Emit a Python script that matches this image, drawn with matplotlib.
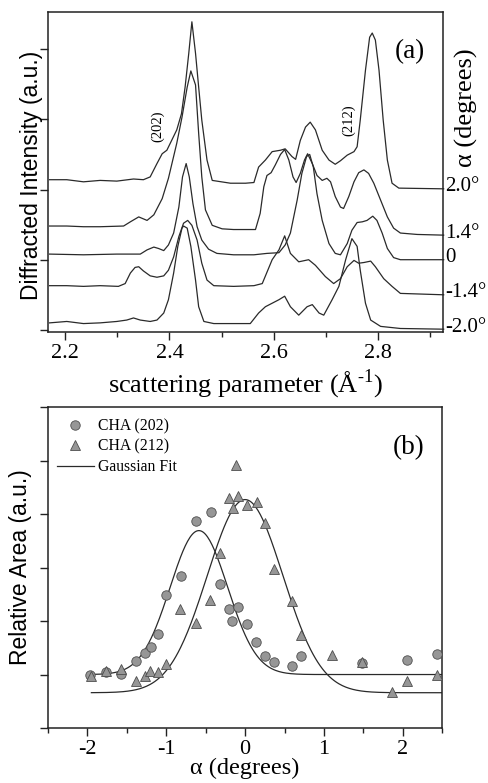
import numpy as np
import matplotlib
matplotlib.use('Agg')
import matplotlib.pyplot as plt
from matplotlib.ticker import MultipleLocator

plt.rcParams['font.family'] = ['Liberation Serif', 'DejaVu Serif']
plt.rcParams['mathtext.fontset'] = 'custom'
plt.rcParams['mathtext.rm'] = 'Liberation Serif'
plt.rcParams['axes.unicode_minus'] = False

# ---- panel (a): diffraction profiles, stacked ----
q_20 = [2.170, 2.203, 2.235, 2.267, 2.299, 2.331, 2.350, 2.363, 2.376, 2.386,
        2.395, 2.414, 2.423, 2.430, 2.437, 2.443, 2.450, 2.456, 2.462, 2.472,
        2.482, 2.517, 2.546, 2.562, 2.571, 2.584, 2.597, 2.613, 2.622, 2.635,
        2.642, 2.651, 2.661, 2.670, 2.680, 2.693, 2.706, 2.718, 2.728, 2.741,
        2.754, 2.760, 2.766, 2.776, 2.784, 2.789, 2.795, 2.802, 2.810, 2.818,
        2.827, 2.840, 2.926]
i_20 = [2.14, 2.14, 2.11, 2.13, 2.12, 2.15, 2.14, 2.18, 2.37, 2.51,
        2.56, 2.85, 3.08, 3.46, 3.94, 4.39, 3.94, 3.46, 2.99, 2.42,
        2.13, 2.09, 2.09, 2.10, 2.32, 2.42, 2.54, 2.56, 2.58, 2.47,
        2.43, 2.70, 2.89, 2.96, 2.85, 2.56, 2.42, 2.36, 2.41, 2.49,
        2.54, 2.61, 2.99, 3.70, 4.17, 4.23, 4.13, 3.70, 2.99, 2.42,
        2.09, 2.02, 2.01]

q_14 = [2.170, 2.203, 2.235, 2.267, 2.312, 2.325, 2.341, 2.357, 2.370, 2.386,
        2.398, 2.414, 2.424, 2.434, 2.441, 2.450, 2.456, 2.462, 2.469, 2.482,
        2.501, 2.523, 2.565, 2.574, 2.581, 2.587, 2.595, 2.603, 2.613, 2.621,
        2.629, 2.637, 2.643, 2.651, 2.659, 2.665, 2.674, 2.683, 2.693, 2.702,
        2.709, 2.718, 2.728, 2.734, 2.744, 2.754, 2.763, 2.773, 2.782, 2.792,
        2.805, 2.818, 2.830, 2.843, 2.875, 2.926]
i_14 = [1.48, 1.48, 1.47, 1.47, 1.48, 1.54, 1.61, 1.56, 1.64, 1.87,
        2.16, 2.66, 3.03, 3.46, 3.69, 3.49, 2.80, 2.18, 1.71, 1.49,
        1.44, 1.43, 1.43, 1.66, 2.04, 2.20, 2.24, 2.35, 2.50, 2.57,
        2.42, 2.18, 2.10, 2.23, 2.42, 2.51, 2.37, 2.20, 2.13, 2.16,
        2.11, 1.90, 1.75, 1.73, 1.90, 2.11, 2.24, 2.28, 2.23, 2.09,
        1.85, 1.61, 1.45, 1.38, 1.36, 1.35]

q_00 = [2.170, 2.235, 2.299, 2.344, 2.357, 2.370, 2.379, 2.389, 2.398, 2.408,
        2.418, 2.425, 2.432, 2.438, 2.445, 2.453, 2.462, 2.475, 2.491, 2.523,
        2.562, 2.587, 2.610, 2.622, 2.632, 2.645, 2.654, 2.663, 2.669, 2.676,
        2.683, 2.693, 2.706, 2.718, 2.728, 2.741, 2.750, 2.760, 2.770, 2.779,
        2.790, 2.798, 2.808, 2.818, 2.830, 2.843, 2.926]
i_00 = [1.08, 1.07, 1.08, 1.08, 1.14, 1.18, 1.16, 1.13, 1.21, 1.38,
        1.75, 2.18, 2.37, 2.18, 1.80, 1.47, 1.28, 1.15, 1.09, 1.07,
        1.07, 1.09, 1.10, 1.21, 1.38, 1.85, 2.23, 2.47, 2.50, 2.32,
        1.94, 1.56, 1.23, 1.09, 1.07, 1.23, 1.42, 1.53, 1.54, 1.56,
        1.62, 1.56, 1.38, 1.16, 1.03, 1.00, 1.00]

q_m14 = [2.170, 2.203, 2.235, 2.267, 2.302, 2.315, 2.325, 2.334, 2.341, 2.350,
         2.363, 2.376, 2.389, 2.398, 2.408, 2.418, 2.427, 2.435, 2.443, 2.453,
         2.462, 2.472, 2.485, 2.523, 2.562, 2.578, 2.597, 2.610, 2.621, 2.632,
         2.648, 2.667, 2.680, 2.699, 2.715, 2.728, 2.741, 2.754, 2.763, 2.773,
         2.786, 2.795, 2.811, 2.827, 2.843, 2.926]
i_m14 = [0.63, 0.63, 0.62, 0.63, 0.62, 0.66, 0.81, 0.89, 0.90, 0.84,
         0.77, 0.75, 0.77, 0.85, 1.04, 1.33, 1.52, 1.56, 1.49, 1.28,
         0.95, 0.71, 0.63, 0.62, 0.63, 0.66, 1.00, 1.14, 1.34, 1.09,
         0.97, 1.00, 0.92, 0.76, 0.66, 0.73, 0.90, 0.99, 0.95, 0.96,
         0.98, 0.90, 0.73, 0.62, 0.52, 0.50]

q_m20 = [2.170, 2.203, 2.235, 2.267, 2.299, 2.318, 2.331, 2.344, 2.363, 2.376,
         2.389, 2.398, 2.408, 2.416, 2.424, 2.427, 2.434, 2.441, 2.450, 2.456,
         2.466, 2.485, 2.523, 2.555, 2.571, 2.584, 2.597, 2.610, 2.621, 2.632,
         2.648, 2.664, 2.674, 2.687, 2.696, 2.712, 2.725, 2.738, 2.750, 2.760,
         2.766, 2.776, 2.786, 2.805, 2.843, 2.926]
i_m20 = [0.10, 0.12, 0.09, 0.10, 0.12, 0.14, 0.17, 0.14, 0.12, 0.14,
         0.24, 0.43, 0.81, 1.19, 1.45, 1.48, 1.45, 1.19, 0.71, 0.33,
         0.12, 0.09, 0.09, 0.09, 0.24, 0.33, 0.38, 0.43, 0.48, 0.33,
         0.21, 0.33, 0.36, 0.24, 0.21, 0.43, 0.62, 1.00, 1.30, 1.19,
         0.85, 0.38, 0.14, 0.05, 0.02, 0.01]

curve_labels = ['2.0°', '1.4°', '0', '-1.4°', '-2.0°']

# ---- panel (b): relative areas vs tilt angle ----
alpha_202 = [-1.97, -1.77, -1.57, -1.39, -1.27, -1.19, -1.11, -1.00, -0.81, -0.62,
             -0.43, -0.32, -0.20, -0.16, -0.085, 0.03, 0.14, 0.25, 0.37, 0.60,
             0.71, 1.48, 2.05, 2.43]
area_202 = [1.00, 1.05, 1.01, 1.25, 1.41, 1.52, 1.75, 2.49, 2.84, 3.87,
            4.04, 2.69, 2.23, 2.00, 2.26, 1.94, 1.60, 1.35, 1.24, 1.16,
            1.35, 1.21, 1.28, 1.38]

alpha_212 = [-1.96, -1.76, -1.58, -1.39, -1.27, -1.20, -1.11, -1.00, -0.82, -0.62,
             -0.45, -0.32, -0.21, -0.15, -0.12, -0.09, 0.03, 0.15, 0.25, 0.37,
             0.60, 0.71, 1.10, 1.48, 1.87, 2.05, 2.43]
area_212 = [0.97, 1.06, 1.10, 0.88, 0.98, 1.06, 1.05, 1.19, 2.22, 1.96,
            2.39, 3.27, 4.29, 4.12, 4.92, 4.34, 4.17, 4.23, 3.84, 2.98,
            2.38, 1.74, 1.36, 1.23, 0.68, 0.88, 1.00]

# gaussian fit parameters (baseline, amplitude, centre, sigma)
fit_202 = (1.00, 2.69, -0.586, 0.365)
fit_212 = (0.66, 3.61, 0.0, 0.48)


def gauss(x, y0, a, xc, w):
    return y0 + a * np.exp(-(x - xc) ** 2 / (2 * w ** 2))


def style_axes(ax):
    for s in ax.spines.values():
        s.set_linewidth(1.1)
        s.set_color('#222222')
    ax.tick_params(axis='both', which='both', direction='out', top=False, right=False,
                   color='#222222', width=1.0)
    ax.tick_params(which='major', length=6, labelsize=16, pad=2.5)
    ax.tick_params(which='minor', length=3.5)
    ax.tick_params(axis='y', labelleft=False)


fig = plt.figure(figsize=(4.89, 7.83), dpi=100)
ax1 = fig.add_axes([0.0982, 0.576, 0.808, 0.4087])
ax2 = fig.add_axes([0.0982, 0.0702, 0.806, 0.41])

# ---------------- (a) ----------------
qs = [q_20, q_14, q_00, q_m14, q_m20]
ints = [i_20, i_14, i_00, i_m14, i_m20]
for q, inten, lab in zip(qs, ints, curve_labels):
    ax1.plot(q, inten, color='#2a2a2a', lw=0.9, clip_on=False)
    # angle label at the right end of each trace
    ax1.text(1.005, (inten[-1] + 0.06) / 4.56, lab, transform=ax1.transAxes,
             ha='left', va='center', fontsize=15)

ax1.set_xlim(2.167, 2.925)
ax1.set_ylim(-0.03, 4.53)
ax1.xaxis.set_major_locator(MultipleLocator(0.2))
ax1.xaxis.set_minor_locator(MultipleLocator(0.1))
ax1.yaxis.set_major_locator(MultipleLocator(1))
ax1.xaxis.set_major_formatter(plt.FormatStrFormatter('%.1f'))
style_axes(ax1)

ax1.set_ylabel('Diffracted Intensity (a.u.)', family=['Liberation Sans'], fontsize=16.5)
ax1.yaxis.set_label_coords(-0.012, 0.49)
ax1.set_xlabel('scattering parameter (Å$^{\\text{-1}}$)', fontsize=19)
ax1.xaxis.set_label_coords(0.5, -0.11)

ax1.text(0.955, 0.875, '(a)', transform=ax1.transAxes, ha='right', va='center', fontsize=19.5)
ax1.text(1.06, 0.70, 'α (degrees)', transform=ax1.transAxes, rotation=90,
         ha='center', va='center', fontsize=19)
ax1.text(2.378, 2.90, '(202)', rotation=90, ha='center', va='center', fontsize=10.5)
ax1.text(2.743, 2.99, '(212)', rotation=90, ha='center', va='center', fontsize=10.5)

# ---------------- (b) ----------------
xfit = np.linspace(-1.95, 2.5, 300)
ax2.plot(alpha_202, area_202, ls='none', marker='o', ms=6.8, mfc='#969696',
         mec='#4d4d4d', mew=0.6, label='CHA (202)', zorder=3)
ax2.plot(alpha_212, area_212, ls='none', marker='^', ms=7.6, mfc='#969696',
         mec='#4d4d4d', mew=0.6, label='CHA (212)', zorder=3)
ax2.plot(xfit, gauss(xfit, *fit_202), color='#2a2a2a', lw=0.9, label='Gaussian Fit')
ax2.plot(xfit, gauss(xfit, *fit_212), color='#2a2a2a', lw=0.9)

ax2.set_xlim(-2.5, 2.5)
ax2.set_ylim(0, 6)
ax2.xaxis.set_major_locator(MultipleLocator(1))
ax2.xaxis.set_minor_locator(MultipleLocator(0.5))
ax2.yaxis.set_major_locator(MultipleLocator(1))
style_axes(ax2)

ax2.set_ylabel('Relative Area (a.u.)', family=['Liberation Sans'], fontsize=16.5)
ax2.yaxis.set_label_coords(-0.04, 0.5)
ax2.set_xlabel('α (degrees)', fontsize=17.5)
ax2.xaxis.set_label_coords(0.5, -0.092)

ax2.text(0.955, 0.875, '(b)', transform=ax2.transAxes, ha='right', va='center', fontsize=19.5)
ax2.legend(loc='upper left', bbox_to_anchor=(0.0, 0.995), frameon=False, fontsize=11.3,
           handlelength=2.3, handletextpad=0.3, labelspacing=0.3, borderaxespad=0.2)

fig.savefig('out.png', dpi=100)
